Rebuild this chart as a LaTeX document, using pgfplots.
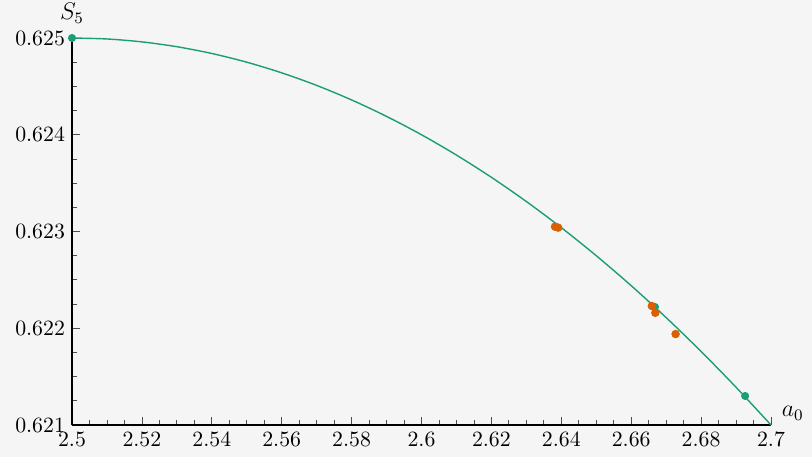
\documentclass[border=0pt]{standalone}
\usepackage{pgfplots}
\pgfplotsset{compat=1.18}
\definecolor{bg}{HTML}{F5F5F5}
\definecolor{cgreen}{HTML}{1B9E77}
\definecolor{corange}{HTML}{D95F02}
\begin{document}
\begin{tikzpicture}
\fill[bg] (-36pt,-16pt) rectangle (370pt,212.5pt);
\begin{axis}[
  at={(0,0)}, anchor=south west,
  scale only axis, width=349.5pt, height=193.5pt,
  xmin=2.5, xmax=2.7, ymin=0.621, ymax=0.625,
  axis lines=left, axis line style={-, black, line width=0.6pt},
  clip=false,
  xtick={2.5,2.52,...,2.701}, ytick={0.621,0.622,0.623,0.624,0.625},
  minor x tick num=3, minor y tick num=3,
  tick align=inside,
  major tick length=4pt, minor tick length=2.6pt,
  tick style={black!70, line width=0.4pt},
  scaled ticks=false,
  tick label style={font=\fontsize{10.9pt}{13pt}\selectfont},
  xticklabels={2.5,2.52,2.54,2.56,2.58,2.6,2.62,2.64,2.66,2.68,2.7},
  yticklabels={0.621,0.622,0.623,0.624,0.625},
]
\addplot[cgreen, line width=0.7pt, smooth] coordinates {
(2.500,0.625000) (2.510,0.624990) (2.520,0.624960) (2.530,0.624910)
(2.540,0.624840) (2.550,0.624750) (2.560,0.624640) (2.570,0.624510)
(2.580,0.624360) (2.590,0.624190) (2.600,0.624000) (2.610,0.623790)
(2.620,0.623560) (2.630,0.623310) (2.640,0.623040) (2.650,0.622750)
(2.660,0.622440) (2.670,0.622110) (2.680,0.621760) (2.690,0.621390)
(2.700,0.621000)};
\addplot[only marks, mark=*, mark size=1.8pt, cgreen] coordinates {
(2.500,0.625000) (2.6668,0.62222) (2.6926,0.62130)};
\addplot[only marks, mark=*, mark size=1.9pt, corange] coordinates {
(2.6382,0.62305) (2.6391,0.62304) (2.6659,0.62223) (2.6669,0.62216) (2.6727,0.62194)};
\node[anchor=south, font=\fontsize{12pt}{14pt}\selectfont] at (axis description cs:0,1.02) {$S_5$};
\node[anchor=west, inner sep=1pt, font=\fontsize{12pt}{14pt}\selectfont] at (axis description cs:1.012,0.03) {$a_0$};
\end{axis}
\pgfresetboundingbox
\path[use as bounding box] (-36pt,-16pt) rectangle (370pt,212.5pt);
\end{tikzpicture}
\end{document}
